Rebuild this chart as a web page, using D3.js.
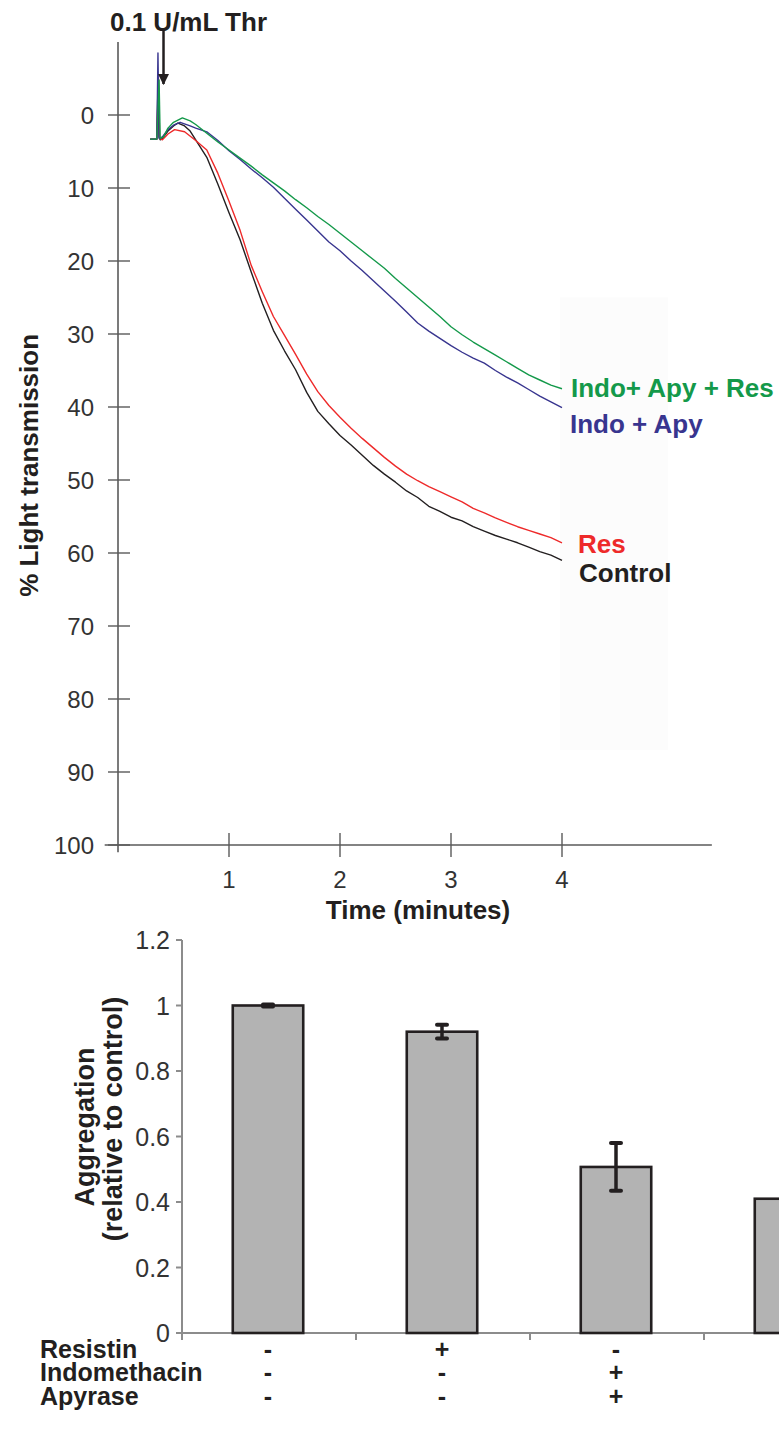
<!DOCTYPE html>
<html>
<head>
<meta charset="utf-8">
<script src="https://cdn.jsdelivr.net/npm/d3@7"></script>
<style>
  html, body { margin: 0; padding: 0; background: #fff; }
  svg { display: block; font-family: "Liberation Sans", Arial, Helvetica, sans-serif; }
</style>
</head>
<body>
<svg id="fig" width="779" height="1437"></svg>
<script>
// ---- Aggregation traces: [time (min), % light transmission] ----
const controlTrace = [
  [0.29,3.3],[0.35,3.3],[0.36,-4.0],[0.37,3.0],[0.38,3.4],[0.40,3.2],[0.45,2.2],[0.50,1.5],[0.54,1.1],
  [0.60,1.5],[0.65,2.2],[0.70,3.4],[0.80,5.8],[0.90,9.5],[1.00,13.4],[1.10,17.1],[1.20,21.5],[1.30,25.8],
  [1.40,29.5],[1.50,32.3],[1.60,34.9],[1.70,38.0],[1.80,40.6],[1.90,42.3],[2.00,43.9],[2.10,45.2],
  [2.20,46.6],[2.30,48.0],[2.40,49.2],[2.50,50.3],[2.60,51.5],[2.70,52.4],[2.80,53.6],[2.90,54.3],
  [3.00,55.1],[3.10,55.6],[3.20,56.4],[3.30,57.0],[3.40,57.6],[3.50,58.1],[3.60,58.6],[3.70,59.2],
  [3.80,59.8],[3.90,60.3],[4.00,61.0]
];
const resTrace = [
  [0.29,3.3],[0.35,3.3],[0.365,-5.0],[0.375,3.2],[0.40,3.4],[0.45,2.6],[0.51,2.0],[0.60,2.3],[0.70,3.5],
  [0.80,4.8],[0.90,8.0],[1.00,11.8],[1.10,15.8],[1.20,20.6],[1.30,24.2],[1.40,27.6],[1.50,30.2],
  [1.60,32.8],[1.70,35.5],[1.80,37.9],[1.90,39.8],[2.00,41.4],[2.10,42.9],[2.20,44.3],[2.30,45.6],
  [2.40,46.9],[2.50,48.1],[2.60,49.2],[2.70,50.1],[2.80,50.9],[2.90,51.6],[3.00,52.3],[3.10,53.0],
  [3.20,53.9],[3.30,54.5],[3.40,55.2],[3.50,55.8],[3.60,56.4],[3.70,56.9],[3.80,57.4],[3.90,57.9],[4.00,58.6]
];
const indoApyResTrace = [
  [0.29,3.3],[0.35,3.3],[0.37,-4.8],[0.38,3.2],[0.41,3.0],[0.45,1.8],[0.50,1.0],[0.58,0.4],[0.65,0.8],
  [0.70,1.3],[0.80,2.5],[0.90,3.7],[1.00,4.8],[1.10,5.9],[1.20,7.0],[1.30,8.2],[1.40,9.3],[1.50,10.4],
  [1.60,11.6],[1.70,12.7],[1.80,13.9],[1.90,15.0],[2.00,16.2],[2.10,17.4],[2.20,18.6],[2.30,19.8],
  [2.40,21.0],[2.50,22.4],[2.60,23.7],[2.70,25.0],[2.80,26.3],[2.90,27.6],[3.00,29.0],[3.10,30.1],
  [3.20,31.1],[3.30,32.0],[3.40,32.9],[3.50,33.8],[3.60,34.7],[3.70,35.6],[3.80,36.3],[3.90,37.0],[4.00,37.5]
];
const indoApyTrace = [
  [0.29,3.3],[0.35,3.3],[0.36,-8.5],[0.37,3.2],[0.40,3.0],[0.45,2.0],[0.50,1.4],[0.56,1.0],[0.65,1.5],
  [0.70,1.8],[0.80,2.3],[0.90,3.5],[1.00,4.9],[1.10,6.1],[1.20,7.4],[1.30,8.6],[1.40,9.9],[1.50,11.4],
  [1.60,12.9],[1.70,14.4],[1.80,15.9],[1.90,17.4],[2.00,18.6],[2.10,20.0],[2.20,21.3],[2.30,22.7],
  [2.40,24.1],[2.50,25.5],[2.60,27.0],[2.70,28.5],[2.80,29.6],[2.90,30.6],[3.00,31.6],[3.10,32.5],
  [3.20,33.3],[3.30,34.0],[3.40,35.0],[3.50,35.9],[3.60,36.7],[3.70,37.6],[3.80,38.5],[3.90,39.3],[4.00,40.1]
];
const traceNames  = ["Indo+ Apy + Res", "Indo + Apy", "Res", "Control"];
const traceColors = ["#14994a", "#38358f", "#ee2a2a", "#231f20"];
const timeTicks   = [1, 2, 3, 4];
const transTicks  = [0, 10, 20, 30, 40, 50, 60, 70, 80, 90, 100];
const thrombinTime = 0.41;
const thrombinLabel = "0.1 U/mL Thr";

// ---- Summary bars ----
const groups        = ["control", "res", "indoApy", "indoApyRes"];
const aggregation   = [1.0, 0.92, 0.507, 0.41];
const aggregationSE = [0.003, 0.021, 0.073, 0.05];
const aggTicks      = [0, 0.2, 0.4, 0.6, 0.8, 1, 1.2];
const conditionRows = ["Resistin", "Indomethacin", "Apyrase"];
const resistinSigns     = ["-", "+", "-", "+"];
const indomethacinSigns = ["-", "-", "+", "+"];
const apyraseSigns      = ["-", "-", "+", "+"];

const W = 779, H = 1437;
const svg = d3.select("#fig");
svg.append("rect").attr("width", W).attr("height", H).attr("fill", "#fff");
const ink = "#231f20";

// ================= Upper panel: light transmission traces =================
const xT = d3.scaleLinear().domain([0, 4]).range([118, 562]);
const yT = d3.scaleLinear().domain([0, 100]).range([115, 845]);
const traceG = svg.append("g");

// faint backdrop behind the trace labels
traceG.append("rect")
  .attr("x", xT(4) - 2).attr("y", yT(25)).attr("width", 108).attr("height", yT(87) - yT(25))
  .attr("fill", "#fcfcfc");

const axisCol = "#5a5a5a";
// y axis
traceG.append("line").attr("x1", xT(0)).attr("x2", xT(0))
  .attr("y1", yT(-10)).attr("y2", yT(101))
  .attr("stroke", axisCol).attr("stroke-width", 1.6);
const yTick = traceG.selectAll(".ytk").data(transTicks).join("g")
  .attr("transform", d => `translate(${xT(0)},${yT(d)})`);
yTick.append("line").attr("x1", -10).attr("x2", 12).attr("stroke", axisCol).attr("stroke-width", 1.4);
yTick.append("text").attr("x", -24).attr("dy", "0.36em").attr("text-anchor", "end")
  .attr("font-size", 24).attr("fill", "#333").text(d => d);

// x axis
traceG.append("line").attr("x1", xT(-0.12)).attr("x2", xT(5.35))
  .attr("y1", yT(100)).attr("y2", yT(100))
  .attr("stroke", axisCol).attr("stroke-width", 1.6);
const xTick = traceG.selectAll(".xtk").data(timeTicks).join("g")
  .attr("transform", d => `translate(${xT(d)},${yT(100)})`);
xTick.append("line").attr("y1", -12).attr("y2", 12).attr("stroke", axisCol).attr("stroke-width", 1.4);
xTick.append("text").attr("y", 43).attr("text-anchor", "middle")
  .attr("font-size", 24).attr("fill", "#333").text(d => d);

traceG.append("text").attr("x", 418).attr("y", 919).attr("text-anchor", "middle")
  .attr("font-size", 26).attr("font-weight", "bold").attr("fill", ink).text("Time (minutes)");
traceG.append("text")
  .attr("transform", `translate(38,${yT(48)}) rotate(-90)`)
  .attr("text-anchor", "middle")
  .attr("font-size", 26).attr("font-weight", "bold").attr("fill", ink).text("% Light transmission");

// traces
const line = d3.line().x(d => xT(d[0])).y(d => yT(d[1]));
const traces = [indoApyResTrace, indoApyTrace, resTrace, controlTrace];
[3, 2, 1, 0].forEach(i => {
  traceG.append("path").datum(traces[i]).attr("d", line)
    .attr("fill", "none").attr("stroke", traceColors[i]).attr("stroke-width", 1.4)
    .attr("stroke-linejoin", "round");
});

// trace labels placed next to each trace end
const labelPos = [
  { dx: 9,  dy: 8 },
  { dx: 8,  dy: 25 },
  { dx: 16, dy: 10 },
  { dx: 17, dy: 22 }
];
traces.forEach((tr, i) => {
  const last = tr[tr.length - 1];
  traceG.append("text")
    .attr("x", xT(last[0]) + labelPos[i].dx)
    .attr("y", yT(last[1]) + labelPos[i].dy)
    .attr("font-size", 26).attr("font-weight", "bold")
    .attr("fill", traceColors[i]).text(traceNames[i]);
});

// thrombin addition arrow
svg.append("defs").append("marker")
  .attr("id", "arrowHead").attr("viewBox", "0 0 10 10")
  .attr("refX", 9).attr("refY", 5).attr("markerWidth", 4.4).attr("markerHeight", 4.4)
  .attr("orient", "auto")
  .append("path").attr("d", "M0,0 L10,5 L0,10 Z").attr("fill", ink);
traceG.append("line")
  .attr("x1", xT(thrombinTime)).attr("x2", xT(thrombinTime))
  .attr("y1", 30).attr("y2", 84)
  .attr("stroke", ink).attr("stroke-width", 2.5)
  .attr("marker-end", "url(#arrowHead)");
traceG.append("text").attr("x", 110).attr("y", 31)
  .attr("font-size", 26).attr("font-weight", "bold").attr("fill", ink).text(thrombinLabel);

// ================= Lower panel: relative aggregation =================
const xB = d3.scaleBand().domain(groups).range([181, 877]).padding(0);
const yB = d3.scaleLinear().domain([0, 1.2]).range([1333, 940]);
const barG = svg.append("g");
const barW = xB.bandwidth() * 0.405;
const gridCol = "#8c8c8c";

barG.append("line").attr("x1", xB.range()[0] + 1).attr("x2", xB.range()[0] + 1)
  .attr("y1", yB(1.2)).attr("y2", yB(0))
  .attr("stroke", gridCol).attr("stroke-width", 2);
const bTick = barG.selectAll(".btk").data(aggTicks).join("g")
  .attr("transform", d => `translate(${xB.range()[0] + 1},${yB(d)})`);
bTick.append("line").attr("x1", -6).attr("x2", 0).attr("stroke", gridCol).attr("stroke-width", 2);
bTick.append("text").attr("x", -12).attr("dy", "0.36em").attr("text-anchor", "end")
  .attr("font-size", 25).attr("fill", "#333").text(d => d);

barG.append("line").attr("x1", xB.range()[0]).attr("x2", W)
  .attr("y1", yB(0)).attr("y2", yB(0))
  .attr("stroke", gridCol).attr("stroke-width", 2);
barG.selectAll(".bx").data(groups).join("line")
  .attr("x1", d => xB(d) + 1).attr("x2", d => xB(d) + 1)
  .attr("y1", yB(0)).attr("y2", yB(0) + 7)
  .attr("stroke", gridCol).attr("stroke-width", 2);

barG.selectAll(".bar").data(groups).join("rect")
  .attr("x", d => xB(d) + xB.bandwidth() / 2 - barW / 2)
  .attr("y", (d, i) => yB(aggregation[i]))
  .attr("width", barW)
  .attr("height", (d, i) => yB(0) - yB(aggregation[i]))
  .attr("fill", "#b3b3b3").attr("stroke", ink).attr("stroke-width", 2.6);

// error bars
const eb = barG.selectAll(".eb").data(groups).join("g")
  .attr("transform", d => `translate(${xB(d) + xB.bandwidth() / 2},0)`);
eb.append("line")
  .attr("y1", (d, i) => yB(aggregation[i] + aggregationSE[i]))
  .attr("y2", (d, i) => yB(aggregation[i] - aggregationSE[i]))
  .attr("stroke", ink).attr("stroke-width", 3.5);
[1, -1].forEach(s => {
  eb.append("line").attr("x1", -5).attr("x2", 5)
    .attr("y1", (d, i) => yB(aggregation[i] + s * aggregationSE[i]))
    .attr("y2", (d, i) => yB(aggregation[i] + s * aggregationSE[i]))
    .attr("stroke", ink).attr("stroke-width", 4).attr("stroke-linecap", "round");
});

barG.append("text")
  .attr("transform", `translate(94,1127) rotate(-90)`).attr("text-anchor", "middle")
  .attr("font-size", 27).attr("font-weight", "bold").attr("fill", ink).text("Aggregation");
barG.append("text")
  .attr("transform", `translate(122,1119) rotate(-90)`).attr("text-anchor", "middle")
  .attr("font-size", 27).attr("font-weight", "bold").attr("fill", ink).text("(relative to control)");

// treatment table (columns whose centre falls past the page edge are not drawn)
const signRows = [resistinSigns, indomethacinSigns, apyraseSigns];
const rowY = [1358, 1381, 1405];
const visibleGroups = groups.filter(g => xB(g) + xB.bandwidth() / 2 < W);
conditionRows.forEach((name, r) => {
  barG.append("text").attr("x", 40).attr("y", rowY[r])
    .attr("font-size", 25).attr("font-weight", "bold").attr("fill", ink).text(name);
  barG.selectAll(`.sg${r}`).data(visibleGroups).join("text")
    .attr("x", d => xB(d) + xB.bandwidth() / 2).attr("y", rowY[r])
    .attr("text-anchor", "middle")
    .attr("font-size", 25).attr("font-weight", "bold").attr("fill", ink)
    .text(d => signRows[r][groups.indexOf(d)]);
});
</script>
</body>
</html>
